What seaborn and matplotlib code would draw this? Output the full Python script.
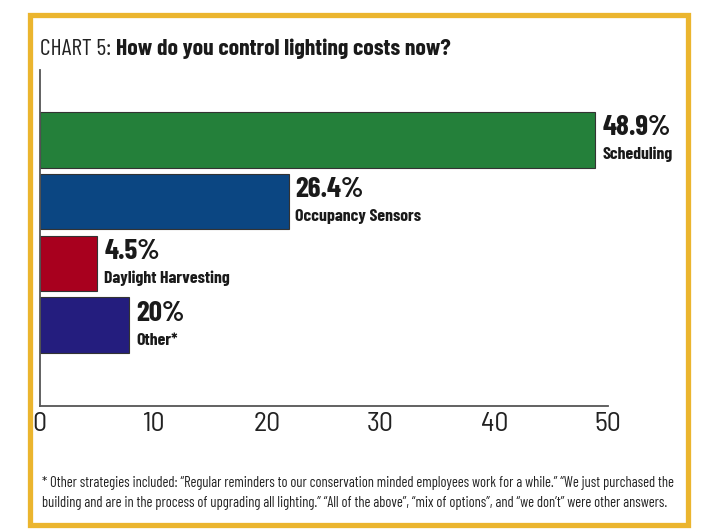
import matplotlib
matplotlib.use("Agg")
import matplotlib.pyplot as plt
import seaborn as sns
import pandas as pd
from matplotlib.patches import Rectangle

# === Data ===
categories = ["Scheduling", "Occupancy Sensors", "Daylight Harvesting", "Other*"]
bar_lengths = [48.9, 21.9, 5.1, 7.9]          # drawn bar lengths
pct_labels = ["48.9%", "26.4%", "4.5%", "20%"]  # printed labels
bar_colors = ["#24803a", "#0b4682", "#a8001e", "#241d7e"]
x_ticks = [0, 10, 20, 30, 40, 50]

title_plain = "CHART 5: "
title_bold = "How do you control lighting costs now?"
footnote = [
    "* Other strategies included: \u201cRegular reminders to our conservation minded employees work for a while.\u201d \u201cWe just purchased the",
    "building and are in the process of upgrading all lighting.\u201d \u201cAll of the above\u201d, \u201cmix of options\u201d, and \u201cwe don\u2019t\u201d were other answers.",
]

sns.set_style("white")
COND = ["Barlow Condensed", "DejaVu Sans"]
SEMI = ["Barlow Semi Condensed", "DejaVu Sans"]
plt.rcParams["font.family"] = SEMI

W, H = 710, 529
fig = plt.figure(figsize=(W / 100, H / 100), dpi=100)
fig.patch.set_facecolor("white")

def fx(px):
    return px / W

def fy(py):
    return 1 - py / H

# axes: x=0 at 39.5px, x=50 at 608px, top at 70px, bottom at 406px
ax = fig.add_axes([fx(39.5), fy(406), fx(608) - fx(39.5), fy(70) - fy(406)])

df = pd.DataFrame({"cat": categories, "val": bar_lengths})
sns.barplot(data=df, x="val", y="cat", hue="cat", palette=bar_colors, legend=False,
            orient="h", width=0.9, saturation=1, edgecolor="#333333", linewidth=0.8, ax=ax)

ax.set_xlim(0, 50)
ax.set_ylim(3 + 1.31, -1.13)
ax.set_xticks(x_ticks)
ax.set_xticklabels([str(t) for t in x_ticks], fontsize=20, fontweight="normal",
                   fontstretch="semi-condensed", color="#222222")
ax.set_yticks([])
ax.set_xlabel("")
ax.set_ylabel("")
ax.tick_params(axis="x", direction="in", length=6.5, width=1.2, color="#555555", pad=4)
for side in ["top", "right"]:
    ax.spines[side].set_visible(False)
for side in ["left", "bottom"]:
    ax.spines[side].set_color("#555555")
    ax.spines[side].set_linewidth(1.3)
ax.patch.set_alpha(0)

# value + category labels to the right of each bar
for i, (v, pct, name) in enumerate(zip(bar_lengths, pct_labels, categories)):
    ax.annotate(pct, xy=(v, i - 0.45), xytext=(5, -2.5), textcoords="offset points",
                ha="left", va="top", fontsize=21, fontweight="bold",
                family=COND, fontstretch="condensed", color="#1a1a1a")
    ax.annotate(name, xy=(v, i + 0.45), xytext=(5, 6), textcoords="offset points",
                ha="left", va="baseline", fontsize=12.8, fontweight="bold",
                family=COND, fontstretch="condensed", color="#1a1a1a")

# title: plain part + bold part
fig.canvas.draw()
r = fig.canvas.get_renderer()
t1 = fig.text(fx(40), fy(55), title_plain, fontsize=17, family=COND,
              fontstretch="condensed", color="#222222", va="baseline", ha="left")
w1 = t1.get_window_extent(r).width
fig.text(fx(40 + w1), fy(55), title_bold, fontsize=17, fontweight="bold",
         family=COND, fontstretch="condensed", color="#1a1a1a", va="baseline", ha="left")

# footnote, fitted to the width of the box
foot_texts = []
for line, yy in zip(footnote, [487, 507]):
    foot_texts.append(fig.text(fx(42), fy(yy), line, fontsize=10, family=COND,
                               fontstretch="condensed", color="#222222",
                               va="baseline", ha="left"))
fig.canvas.draw()
scale = 634 / foot_texts[0].get_window_extent(r).width
for t in foot_texts:
    t.set_fontsize(10 * scale)

# gold frame
fig.patches.append(Rectangle((fx(29.5), fy(524.5)), fx(687.5) - fx(29.5), fy(15.5) - fy(524.5),
                             transform=fig.transFigure, fill=False,
                             edgecolor="#ebb52e", linewidth=3.8, zorder=10))

fig.savefig("out.png", dpi=100, facecolor="white")
